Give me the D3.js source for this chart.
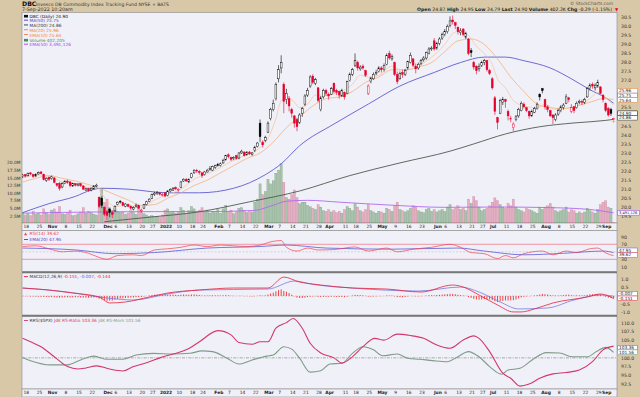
<!DOCTYPE html>
<html>
<head>
<meta charset="utf-8">
<script src="https://cdn.jsdelivr.net/npm/d3@7"></script>
<style>
body { margin: 0; background: #d8c8a8; }
svg { display: block; font-family: "DejaVu Sans", sans-serif; }
</style>
</head>
<body>
<div id="chart"></div>
<script>
// trading days 15-Oct-2021 .. 7-Sep-2022, one entry per session (index 0..224)
var opens = [
  21.70,21.80,21.74,21.90,21.80,21.72, 21.84,21.95,21.82,21.48,21.66, 21.58,21.62,21.30,21.32,21.12,
  21.32,21.45,21.40,21.18,21.30, 21.20,21.30,21.18,20.95,21.05, 20.95,21.02,21.15,20.55,
  20.50,20.00,19.75,19.90,19.70, 19.80,20.15,20.32,20.25,20.05, 20.15,20.05,19.90,20.05,20.10,
  19.80,19.95,20.15,20.32, 20.50,20.70,20.75,20.80,20.68, 20.80,20.65,20.90,20.95,21.10,
  20.95,21.10,21.45,21.55,21.40, 21.65,21.90,22.05,21.98, 21.90,21.80,21.95,22.10,22.05,
  22.20,22.35,22.30,22.45,22.62, 22.90,22.75,22.68,22.85,22.72, 23.00,23.05,22.90,23.05,22.92,
  23.15,23.35,24.65,23.60, 23.70,24.15,24.90,25.40,26.00, 27.10,27.70,26.80,25.95,26.00,
  25.40,25.05,24.85,24.70,25.20, 25.70,26.20,26.70,27.25,26.85, 26.60,25.40,26.10,26.45,26.25,
  26.25,26.85,26.45,26.40,26.15, 26.35,26.30,27.00,27.35, 27.85,28.00,27.65,27.80,27.55,
  26.30,26.95,27.10,27.40,27.50, 27.70,27.60,27.90,28.50,28.20, 28.00,27.35,27.10,27.45,27.35,
  27.70,28.00,28.20,27.80,27.70, 27.95,28.15,28.25,28.50,28.75, 29.20,28.80,29.05,29.35,
  29.55,29.70,30.05,30.35,30.20, 29.95,29.65,29.85,29.40,29.30, 28.65,28.00,27.80,27.65,
  27.85,28.00,28.10,27.55,27.10, 26.05,24.95,25.20,25.80, 25.95,25.30,24.85,24.40,24.85,
  25.05,25.35,25.70,25.50,25.30, 25.05,25.25,25.45,26.25,26.55, 25.95,25.55,25.35,25.10,24.85,
  25.15,25.35,25.50,25.75,26.05, 25.30,25.55,25.50,25.80,25.85, 25.80,26.10,26.55,26.80,26.60,
  26.70,26.65,26.20,25.75,25.45, 25.40,24.87
];
var highs = [
  21.85,21.84,21.92,21.95,21.86,21.88, 21.98,22.00,21.86,21.66,21.70, 21.75,21.66,21.35,21.40,21.38,
  21.50,21.52,21.45,21.36,21.34, 21.34,21.34,21.22,21.08,21.08, 21.10,21.22,21.30,20.60,
  20.60,20.05,19.85,19.95,19.80, 20.10,20.32,20.40,20.30,20.22, 20.20,20.10,20.05,20.20,20.14,
  19.92,20.18,20.36,20.50, 20.75,20.85,20.90,20.85,20.78, 20.85,20.95,21.05,21.12,21.15,
  21.05,21.45,21.60,21.62,21.60, 21.90,22.10,22.12,22.05, 21.95,22.00,22.12,22.28,22.30,
  22.35,22.45,22.48,22.68,22.90, 22.98,22.80,22.82,22.90,23.05, 23.18,23.10,23.10,23.12,23.05,
  23.40,23.60,24.85,23.70, 23.95,24.75,25.50,25.95,26.90, 27.85,28.40,26.90,26.55,26.15,
  25.50,25.10,24.95,25.20,25.55, 26.25,26.60,27.30,27.35,27.15, 26.65,26.15,26.55,26.55,26.35,
  26.65,26.90,26.55,26.45,26.55, 26.40,27.00,27.45,27.70, 28.50,28.10,27.85,27.90,27.60,
  26.80,27.20,27.45,27.60,27.80, 27.80,27.95,28.50,28.65,28.45, 28.05,27.50,27.50,27.60,27.65,
  28.10,28.55,28.25,27.95,28.00, 28.20,28.35,28.60,28.85,28.90, 29.35,29.15,29.40,29.65,
  29.85,30.10,30.55,30.60,30.25, 30.00,29.90,29.90,29.70,29.35, 28.80,28.10,27.85,27.95,
  28.10,28.20,28.15,27.65,27.20, 26.15,25.00,26.00,26.10, 26.00,25.40,25.05,24.70,25.10,
  25.50,25.85,25.80,25.55,25.35, 25.40,25.55,25.80,26.30,26.60, 26.00,25.65,25.40,25.15,25.20,
  25.45,25.65,25.75,26.25,26.10, 25.70,25.60,25.85,25.95,25.95, 26.05,26.65,26.85,26.90,26.85,
  27.05,26.70,26.25,25.80,25.55, 25.50,24.95
];
var lows = [
  21.62,21.65,21.70,21.78,21.62,21.68, 21.80,21.82,21.48,21.40,21.45, 21.52,21.32,21.12,20.92,21.05,
  21.28,21.30,21.10,21.12,21.15, 21.15,21.12,20.95,20.90,20.85, 20.88,20.98,21.10,19.95,
  19.95,19.50,19.30,19.45,19.40, 19.75,20.10,20.20,20.05,20.00, 20.00,19.85,19.82,19.98,19.90,
  19.70,19.90,20.10,20.28, 20.45,20.62,20.68,20.65,20.60, 20.55,20.60,20.85,20.90,20.95,
  20.85,21.05,21.40,21.40,21.35, 21.60,21.85,21.90,21.80, 21.62,21.75,21.92,22.02,22.00,
  22.12,22.25,22.25,22.40,22.58, 22.70,22.55,22.60,22.62,22.65, 22.95,22.80,22.85,22.88,22.85,
  23.05,23.30,23.60,23.30, 23.60,24.10,24.80,25.30,25.90, 26.90,27.40,25.20,25.70,25.30,
  24.95,24.40,24.20,24.60,25.00, 25.60,26.10,26.60,26.80,26.75, 25.80,25.30,26.00,26.15,25.95,
  26.20,26.30,26.20,26.00,26.10, 25.95,26.25,26.95,27.25, 27.75,27.55,27.55,27.60,27.20,
  26.20,26.85,27.05,27.30,27.45, 27.45,27.50,27.85,28.15,28.10, 27.25,26.80,27.05,27.15,27.25,
  27.60,27.95,27.75,27.40,27.60, 27.85,28.05,28.15,28.45,28.65, 28.65,28.70,28.95,29.25,
  29.45,29.60,29.95,30.10,29.85, 29.55,29.50,29.45,29.30,28.40, 28.30,27.60,27.35,27.50,
  27.75,27.85,27.50,27.30,26.50, 25.10,24.30,25.15,25.65, 25.50,24.80,24.70,24.20,24.75,
  24.95,25.30,25.45,25.25,24.90, 25.00,25.20,25.40,25.90,26.30, 25.40,25.25,25.00,24.60,24.75,
  25.05,25.25,25.40,25.70,25.80, 25.20,25.20,25.45,25.70,25.65, 25.70,26.05,26.45,26.55,26.45,
  26.60,26.25,25.80,25.25,25.00, 25.05,24.79
];
var closes = [
  21.78,21.72,21.88,21.84,21.70,21.82, 21.92,21.86,21.52,21.60,21.55, 21.68,21.38,21.22,21.05,21.30,
  21.42,21.38,21.20,21.30,21.22, 21.28,21.20,21.00,21.02,20.92, 21.05,21.18,21.22,20.05,
  20.10,19.62,19.55,19.72,19.60, 20.05,20.28,20.30,20.10,20.18, 20.05,19.95,19.98,20.12,19.95,
  19.85,20.15,20.30,20.45, 20.70,20.78,20.82,20.72,20.70, 20.62,20.90,20.98,21.05,21.02,
  21.00,21.40,21.55,21.45,21.55, 21.85,22.05,22.00,21.92, 21.75,21.95,22.05,22.15,22.25,
  22.30,22.35,22.40,22.60,22.85, 22.80,22.65,22.75,22.70,23.00, 23.10,22.85,23.05,22.95,23.00,
  23.30,23.55,23.90,23.45, 23.85,24.65,25.40,25.75,26.80, 27.60,28.00,25.85,26.30,25.60,
  25.20,24.65,24.45,25.10,25.45, 26.15,26.45,27.20,26.90,27.05, 25.90,26.05,26.45,26.30,26.15,
  26.55,26.40,26.35,26.20,26.45, 26.10,26.95,27.35,27.60, 28.10,27.70,27.75,27.70,27.30,
  26.70,27.15,27.35,27.45,27.70, 27.60,27.85,28.40,28.25,28.35, 27.35,26.95,27.40,27.35,27.55,
  28.05,28.40,27.85,27.65,27.90, 28.10,28.25,28.55,28.75,28.80, 28.75,29.05,29.30,29.55,
  29.70,30.00,30.30,30.25,30.05, 29.70,29.75,29.55,29.60,28.50, 28.55,27.75,27.55,27.80,
  28.00,28.10,27.60,27.40,26.60, 25.30,24.70,25.90,25.95, 25.85,25.05,24.90,24.60,25.00,
  25.40,25.75,25.55,25.35,25.05, 25.30,25.45,25.70,26.10,26.45, 25.55,25.40,25.05,24.95,25.10,
  25.35,25.55,25.65,26.10,25.95, 25.50,25.35,25.75,25.85,25.80, 25.95,26.55,26.75,26.70,26.75,
  26.90,26.30,25.95,25.35,25.10, 25.19,24.90
];
// volume in millions
var volumes = [
  3.6,2.8,3.2,2.6,4.0,3.0, 3.4,2.8,4.8,3.6,3.0, 4.4,4.8,3.8,5.6,3.2, 3.0,3.6,4.4,2.6,2.8,
  3.2,3.8,5.2,3.4,4.0, 3.6,3.0,2.8,8.5, 11.5,7.0,8.0,5.2,4.4, 4.8,4.0,3.6,3.8,3.0,
  3.4,4.2,3.6,3.0,5.2, 3.8,3.2,2.8,2.4, 2.6,2.2,2.4,2.0,2.8, 4.4,4.8,3.6,4.0,3.4,
  3.8,5.2,4.4,3.2,4.2, 5.6,4.8,3.6,4.4, 5.2,3.8,4.4,3.4,4.0, 3.6,4.6,3.4,4.8,6.0,
  4.0,4.4,3.2,3.8,5.0, 5.2,4.4,3.6,4.0,3.8, 7.0,8.0,13.0,9.5, 10.5,14.5,13.0,14.0,16.5,
  17.5,19.6,13.5,8.5,8.0, 9.5,11.0,8.5,6.5,7.0, 7.0,6.0,5.5,5.0,4.6, 6.2,5.4,4.2,4.0,4.6,
  3.8,4.2,3.6,4.0,3.4, 4.6,5.6,5.0,4.2, 6.5,5.4,4.2,3.8,4.6, 6.2,4.2,3.8,3.4,4.0,
  3.8,3.4,5.0,4.6,4.0, 5.8,7.0,4.6,4.2,3.8, 4.2,5.0,5.8,5.4,4.2, 3.8,3.6,4.6,5.0,4.0,
  4.6,3.8,4.2,4.6, 4.0,5.4,6.2,4.6,5.0, 5.8,4.6,5.0,4.2,8.0, 6.6,8.8,7.5,5.4,
  4.2,4.6,5.0,5.8,7.0, 8.4,7.5,6.2,5.4, 5.0,6.6,5.8,8.0,5.4, 4.6,4.2,3.8,5.0,4.6,
  4.2,3.8,3.4,5.4,4.6, 5.4,5.8,6.6,5.4,4.2, 3.8,4.2,4.6,5.4,3.8, 4.6,4.2,3.4,3.8,3.4,
  3.8,5.0,4.2,3.8,3.4, 4.6,6.2,7.0,7.5,5.4, 5.0,0.4
];

// overlay lines: [session index, value]
var ma50 = [[0,19.7],[10,20.2],[20,20.6],[26,20.95],[30,21.05],[40,21.0],[55,20.8],[67,20.8],[80,21.05],
  [92,21.8],[98,22.4],[105,23.4],[118,24.6],[131,25.7],[143,26.7],[156,27.45],[166,28.0],[175,28.3],
  [183,28.3],[190,28.1],[200,27.7],[208,27.1],[215,26.5],[221,26.05],[224,25.75]];
var ma200 = [[31,19.2],[48,19.45],[67,19.75],[86,20.3],[105,20.9],[124,21.75],[143,22.45],[162,23.1],
  [171,23.5],[183,24.05],[196,24.45],[209,24.66],[221,24.8],[224,24.86]];
var ma20 = [[0,21.4],[5,21.6],[10,21.75],[15,21.6],[20,21.45],[25,21.25],[30,21.0],[35,20.7],[40,20.4],
  [45,20.1],[50,20.15],[55,20.5],[60,20.8],[65,21.2],[70,21.5],[75,21.9],[80,22.3],[85,22.7],[90,23.0],
  [95,23.6],[100,24.4],[105,25.0],[110,25.6],[115,26.0],[120,26.1],[125,26.4],[130,26.9],[135,27.2],
  [140,27.6],[145,27.6],[150,27.75],[155,28.0],[160,28.6],[165,29.2],[170,29.3],[175,29.0],[180,28.2],
  [185,27.2],[190,26.4],[195,25.7],[200,25.5],[205,25.45],[210,25.6],[215,25.8],[220,26.0],[224,25.96]];
var ema10 = [[0,21.6],[5,21.78],[10,21.72],[15,21.4],[20,21.3],[25,21.1],[28,21.1],[30,20.75],[33,20.2],
  [35,20.05],[40,20.1],[45,20.0],[50,20.4],[55,20.7],[60,21.0],[65,21.55],[70,21.85],[75,22.2],[80,22.6],
  [85,22.9],[90,23.3],[93,23.8],[96,24.9],[98,25.9],[100,26.1],[103,25.8],[105,25.5],[108,25.7],[111,26.2],
  [115,26.2],[120,26.35],[125,26.8],[128,27.3],[131,27.2],[135,27.3],[140,27.8],[143,27.6],[146,27.6],
  [150,27.8],[155,28.3],[160,29.0],[163,29.6],[166,29.75],[169,29.5],[172,28.9],[175,28.5],[178,27.9],
  [180,27.1],[183,26.6],[186,25.9],[190,25.6],[195,25.5],[198,25.7],[202,25.4],[205,25.45],[210,25.6],
  [215,26.0],[218,26.35],[221,26.05],[224,25.64]];
var volEma50 = [[0,3.4],[30,3.8],[50,3.9],[70,3.9],[88,4.3],[95,6.0],[100,7.3],[108,7.6],[120,7.0],
  [140,6.0],[160,5.3],[180,5.4],[200,5.2],[215,4.6],[224,3.49]];

var rsi14 = [[0,64],[5,66],[10,58],[15,50],[20,52],[25,46],[29,35],[32,30],[36,40],[42,42],[45,40],
  [50,55],[55,58],[60,62],[65,68],[70,64],[75,68],[80,66],[85,64],[90,68],[95,78],[98,80],[100,62],
  [104,52],[108,60],[112,55],[118,56],[126,63],[131,52],[138,60],[142,50],[148,57],[155,62],[162,70],
  [166,62],[170,48],[175,45],[180,32],[183,40],[186,34],[190,45],[197,52],[201,42],[206,52],[210,48],
  [215,58],[218,60],[221,47],[224,39.62]];
var rsiEma20 = [[0,60],[20,55],[35,45],[50,48],[70,60],[90,64],[100,68],[115,60],[140,57],[165,60],
  [175,52],[190,42],[205,46],[220,52],[224,47.95]];

var macdLine = [[0,0.48],[10,0.36],[19,0.18],[29,-0.06],[33,-0.42],[39,-0.36],[48,-0.06],[55,0.18],
  [67,0.36],[80,0.48],[93,0.48],[99,1.14],[105,0.84],[110,0.72],[113,0.66],[125,0.48],[138,0.42],
  [151,0.24],[163,0.66],[167,0.54],[173,0.06],[180,-0.54],[186,-0.96],[189,-0.96],[194,-0.78],
  [201,-0.42],[214,-0.06],[219,0.12],[224,-0.151]];
var macdSignal = [[0,0.48],[17,0.24],[32,-0.12],[42,-0.24],[55,0.12],[67,0.36],[93,0.42],[103,0.9],
  [110,0.7],[125,0.48],[150,0.3],[166,0.54],[173,0.24],[181,-0.36],[188,-0.78],[199,-0.72],
  [209,-0.24],[219,0.06],[224,-0.007]];
var macdHist = [
  -0.01,-0.02,-0.02,-0.03,-0.03,-0.04, -0.04,-0.05,-0.06,-0.06,-0.07, -0.07,-0.08,-0.09,-0.10,-0.09,
  -0.08,-0.08,-0.09,-0.08,-0.08, -0.08,-0.09,-0.10,-0.10,-0.11, -0.10,-0.09,-0.08,-0.16,
  -0.20,-0.25,-0.29,-0.28,-0.27, -0.22,-0.18,-0.15,-0.14,-0.12, -0.11,-0.10,-0.09,-0.07,-0.07,
  -0.06,-0.03,0.00,0.03, 0.06,0.08,0.09,0.09,0.08, 0.07,0.08,0.08,0.08,0.07,
  0.06,0.08,0.09,0.08,0.08, 0.09,0.10,0.08,0.06, 0.03,0.03,0.03,0.04,0.04,
  0.04,0.04,0.03,0.04,0.05, 0.04,0.02,0.01,0.00,0.01, 0.01,-0.01,-0.01,-0.02,-0.03,
  -0.01,0.01,0.04,0.02, 0.04,0.09,0.15,0.20,0.28, 0.35,0.40,0.30,0.26,0.18,
  0.08,-0.02,-0.10,-0.12,-0.12, -0.10,-0.07,-0.04,-0.03,-0.02, -0.05,-0.06,-0.05,-0.05,-0.05,
  -0.04,-0.04,-0.05,-0.06,-0.06, -0.07,-0.04,0.00,0.03, 0.07,0.06,0.05,0.04,0.01,
  -0.04,-0.04,-0.03,-0.02,-0.01, -0.01,0.00,0.03,0.03,0.03, -0.02,-0.07,-0.07,-0.07,-0.06,
  -0.03,0.00,-0.01,-0.02,-0.02, -0.01,0.00,0.02,0.04,0.05, 0.04,0.06,0.07,0.09,
  0.10,0.11,0.13,0.13,0.11, 0.08,0.06,0.03,0.01,-0.07, -0.11,-0.17,-0.21,-0.22,
  -0.21,-0.19,-0.20,-0.21,-0.25, -0.31,-0.36,-0.33,-0.30, -0.27,-0.27,-0.26,-0.25,-0.21,
  -0.15,-0.09,-0.05,-0.02,-0.01, 0.01,0.03,0.06,0.09,0.13, 0.11,0.09,0.06,0.04,0.03,
  0.03,0.04,0.05,0.08,0.08, 0.05,0.03,0.04,0.04,0.04, 0.04,0.07,0.10,0.11,0.12,
  0.12,0.08,0.02,-0.05,-0.10, -0.12,-0.144
];

var rsRatio = [[0,105.6],[3,104.6],[7,103.2],[12,100.3],[17,97.5],[21,96.8],[24,97.1],[28,97.7],[33,96.8],
  [38,96.25],[42,97.5],[47,98.6],[52,100.0],[57,101.1],[62,102.3],[67,104.6],[74,107.8],[79,106.6],
  [82,104.4],[87,103.9],[90,104.6],[93,104.6],[96,108.5],[100,110.1],[102.5,111.3],[106,108.5],
  [109,104.2],[113,101.4],[118,100.0],[121,98.5],[125,100.3],[129,103.2],[133.5,105.6],[137,105.1],
  [142,106.8],[147,106.4],[152,105.6],[157,103.7],[162,102.75],[167,105.1],[171,106.3],[173,105.6],
  [177,101.8],[182,95.6],[185,94.15],[188.5,91.9],[192,92.5],[196,94.15],[201,95.4],[206,95.8],
  [211,96.5],[216,98.9],[220,102.3],[224,103.36]];
var rsMomentum = [[0,100.1],[3,99.2],[10.5,98.0],[17,98.0],[22,99.4],[27,100.5],[32,99.6],[38,99.6],
  [43,100.8],[49.5,101.3],[57,101.1],[63.5,101.3],[68,102.0],[72,101.8],[77.5,99.9],[82,98.25],[87,99.4],
  [92.5,100.5],[95,100.8],[99,103.2],[102,102.5],[105,99.9],[109,95.9],[113,96.3],[116.5,98.25],
  [121,98.45],[125,101.3],[129,103.2],[133,102.3],[136.5,100.6],[142,101.1],[146,99.9],[150.5,99.6],
  [155.5,99.2],[161,98.9],[164.5,100.1],[169,101.8],[173,100.3],[177,97.5],[181.5,95.3],[184,96.5],
  [188.5,97.0],[193.5,99.6],[198.5,101.5],[203.5,101.4],[208.5,100.3],[214,100.3],[217.5,101.8],
  [221,103.0],[224,101.56]];

var tickDays = [1,6,11,16,21,26,32,35,40,45,49,54,59,64,68,74,78,83,88,93,97,102,107,112,116,122,126,
  131,136,141,146,151,157,160,165,170,174,178,183,188,193,198,203,208,213,218,221];
var tickLabels = ["18","25","Nov","8","15","22","Dec","6","13","20","27","2022","10","18","24","Feb","7",
  "14","22","Mar","7","14","21","28","Apr","11","18","25","May","9","16","23","Jun","6","13","21","27",
  "Jul","11","18","25","Aug","8","15","22","29","Sep"];
var bold = ["Nov","Dec","2022","Feb","Mar","Apr","May","Jun","Jul","Aug","Sep"];

var priceTicks = d3.range(19.5, 30.51, 0.5);
var volTicks = [2.5, 5, 7.5, 10, 12.5, 15, 17.5, 20];
var rsiTicks = [10, 30, 50, 70, 90];
var macdTicks = [-1, -0.5, 0, 0.5, 1];
var rrsTicks = [92.5, 95, 97.5, 100, 102.5, 105, 107.5, 110];

function init() {
  var W = 640, H = 397;
  var L = 22, R = 617;
  var bg = "#f0f0f8", red = "#e4002b", fsz = 5.2;

  var svg = d3.select("#chart").append("svg").attr("width", W).attr("height", H);
  svg.append("rect").attr("width", W).attr("height", H).attr("fill", "#d8c8a8");

  var x = d3.scaleLinear().domain([0, 224]).range([22.6, 613.6]);
  var days = d3.range(closes.length);

  var panels = {
    main: [12.5, 223],
    rsi: [230.5, 271.5],
    macd: [273, 315],
    rrs: [316.5, 389]
  };
  var defs = svg.append("defs");
  Object.keys(panels).forEach(function(k) {
    var p = panels[k];
    svg.append("rect").attr("x", L).attr("y", p[0]).attr("width", R - L).attr("height", p[1] - p[0])
      .attr("fill", bg).attr("stroke", "#8a8a8a").attr("stroke-width", 0.6);
    defs.append("clipPath").attr("id", "clip-" + k).append("rect")
      .attr("x", L).attr("y", p[0]).attr("width", R - L).attr("height", p[1] - p[0]);
  });
  // date strips
  svg.append("rect").attr("x", L).attr("y", 223).attr("width", R - L).attr("height", 7.5)
    .attr("fill", bg).attr("stroke", "#8a8a8a").attr("stroke-width", 0.6);
  svg.append("rect").attr("x", L).attr("y", 389).attr("width", R - L).attr("height", 8)
    .attr("fill", bg).attr("stroke", "#8a8a8a").attr("stroke-width", 0.6);
  svg.append("line").attr("x1", L).attr("x2", R).attr("y1", 272.2).attr("y2", 272.2).attr("stroke", "#777").attr("stroke-width", 1.4);
  svg.append("line").attr("x1", L).attr("x2", R).attr("y1", 315.8).attr("y2", 315.8).attr("stroke", "#777").attr("stroke-width", 1.4);

  function txt(g, xx, yy, s, col, anchor, weight, size) {
    return g.append("text").attr("x", xx).attr("y", yy).text(s)
      .attr("fill", col || "#222").attr("font-size", size || fsz)
      .attr("text-anchor", anchor || "start").attr("font-weight", weight || "normal");
  }
  function lineOf(sc) {
    return d3.line().x(function(d) { return x(d[0]); }).y(function(d) { return sc(d[1]); }).curve(d3.curveMonotoneX);
  }
  // right-hand value tags; returns the y centres so axis labels under them can be skipped
  function valueBoxes(list) {
    list.forEach(function(b) {
      var w = b.w || 19.5, fs = b.fs || 4.3;
      svg.append("rect").attr("x", 617.8).attr("y", b.y - 2.3).attr("width", w).attr("height", 4.6)
        .attr("fill", "#fff").attr("stroke", b.col).attr("stroke-width", 0.5);
      txt(svg, 619, b.y + 1.5, b.s, "#222", "start", "normal", fs);
    });
    return list.map(function(b) { return b.y; });
  }
  function axisLabels(ticks, sc, fmt, taken) {
    ticks.forEach(function(t) {
      var yy = sc(t);
      var hit = taken.some(function(b) { return Math.abs(b - yy) < 4.4; });
      if (!hit) txt(svg, 621, yy + 1.7, fmt(t), "#333", "start", "normal", 4.6);
    });
  }

  // ---------- header ----------
  txt(svg, 22, 5.5, "DBC", "#111", "start", "bold", 6.2);
  txt(svg, 36, 5.5, "Invesco DB Commodity Index Tracking Fund  NYSE + BATS", "#333", "start", "normal", 4.6);
  txt(svg, 22, 11, "7-Sep-2022 10:20am", "#333", "start", "normal", 4.8);
  txt(svg, 613, 5, "\u00a9 StockCharts.com", "#555", "end", "normal", 4.4);
  var hdr = svg.append("text").attr("x", 612).attr("y", 11).attr("text-anchor", "end").attr("font-size", 4.6).attr("fill", "#222");
  [["Open ", "bold"], ["24.87 ", ""], ["High ", "bold"], ["24.95 ", ""], ["Low ", "bold"], ["24.79 ", ""],
   ["Last ", "bold"], ["24.90 ", ""], ["Volume ", "bold"], ["402.2K ", ""], ["Chg ", "bold"], ["-0.29 (-1.15%)", ""]]
    .forEach(function(t) { hdr.append("tspan").text(t[0]).attr("font-weight", t[1] || "normal"); });
  txt(svg, 615, 11, "\u25bc", red, "start", "normal", 4.2);

  // ---------- main panel ----------
  var y = d3.scaleLinear().domain([19.5, 30.5]).range([216.3, 17.3]);
  var yv = d3.scaleLinear().domain([0, 20]).range([223.5, 162.5]);
  var gm = svg.append("g").attr("clip-path", "url(#clip-main)");

  function upDay(i) { return i === 0 || closes[i] >= closes[i - 1]; }

  gm.selectAll("rect.vol").data(days).enter().append("rect")
    .attr("x", function(d) { return x(d) - 1.1; })
    .attr("width", 2.2)
    .attr("y", function(d) { return yv(volumes[d]); })
    .attr("height", function(d) { return yv(0) - yv(volumes[d]); })
    .attr("fill", function(d) { return upDay(d) ? "rgba(110,160,110,0.55)" : "rgba(215,110,140,0.5)"; })
    .attr("stroke", function(d) { return upDay(d) ? "rgba(80,120,80,0.6)" : "rgba(190,90,120,0.6)"; })
    .attr("stroke-width", 0.3);

  gm.append("path").datum(volEma50).attr("d", lineOf(yv)).attr("fill", "none").attr("stroke", "#b06af0").attr("stroke-width", 0.9);
  gm.append("path").datum(ma200).attr("d", lineOf(y)).attr("fill", "none").attr("stroke", "#4e5a4e").attr("stroke-width", 0.9);
  gm.append("path").datum(ma50).attr("d", lineOf(y)).attr("fill", "none").attr("stroke", "#5c5cd0").attr("stroke-width", 0.9);
  gm.append("path").datum(ma20).attr("d", lineOf(y)).attr("fill", "none").attr("stroke", "#f5ab6e").attr("stroke-width", 0.7);
  gm.append("path").datum(ema10).attr("d", lineOf(y)).attr("fill", "none").attr("stroke", "#f8c39a").attr("stroke-width", 0.7);

  function candleCol(d) { return upDay(d) ? "#000" : red; }
  gm.selectAll("line.wick").data(days).enter().append("line")
    .attr("x1", function(d) { return x(d); }).attr("x2", function(d) { return x(d); })
    .attr("y1", function(d) { return y(highs[d]); }).attr("y2", function(d) { return y(lows[d]); })
    .attr("stroke", candleCol).attr("stroke-width", 0.6);
  gm.selectAll("rect.body").data(days).enter().append("rect")
    .attr("x", function(d) { return x(d) - 0.9; })
    .attr("width", 1.8)
    .attr("y", function(d) { return y(Math.max(opens[d], closes[d])); })
    .attr("height", function(d) { return Math.max(0.6, Math.abs(y(opens[d]) - y(closes[d]))); })
    .attr("fill", function(d) { return closes[d] > opens[d] ? "#fff" : candleCol(d); })
    .attr("stroke", candleCol).attr("stroke-width", 0.45);
  txt(svg, x(224), y(24.5) - 2.5, "+", "#e0b800", "middle", "bold", 5);

  var mainTaken = valueBoxes([
    { y: 90.8, s: "25.96", col: "#f07f2a" },
    { y: 95.4, s: "25.75", col: "#5c5cd0" },
    { y: 100.0, s: "25.64", col: "#f08040" },
    { y: 113.2, s: "24.90", col: "#000" },
    { y: 117.8, s: "24.86", col: "#333" }
  ]);
  axisLabels(priceTicks, y, function(t) { return t.toFixed(1); }, mainTaken);
  valueBoxes([{ y: yv(3.49), s: "3,491,126", col: "#a040f0", w: 21.5, fs: 3.6 }]);
  volTicks.forEach(function(t) { txt(svg, 20.5, yv(t) + 1.8, t.toFixed(1) + "M", "#333", "end", "normal", 4.4); });

  // legend
  var lg = [["DBC (Daily) 24.90", "#111"], ["MA(50) 25.75", "#4040c8"], ["MA(200) 24.86", "#333"],
            ["MA(20) 25.96", "#f07f2a"], ["EMA(10) 25.64", "#f08040"], ["Volume 402,205", "#4e8a4e"],
            ["EMA(50) 3,491,126", "#a040f0"]];
  lg.forEach(function(t, i) {
    var yy = 17.5 + i * 4.8;
    svg.append("rect").attr("x", 24).attr("y", yy - 2.6).attr("width", 4).attr("height", i === 0 || i === 5 ? 2.6 : 0.9)
      .attr("fill", t[1]);
    txt(svg, 29.5, yy, t[0], t[1], "start", "normal", 4.3);
  });

  // ---------- date axes ----------
  [227.9, 394.3].forEach(function(yy) {
    tickDays.forEach(function(d, i) {
      var lab = tickLabels[i];
      txt(svg, x(d) + 1, yy, lab, "#222", "middle", bold.indexOf(lab) >= 0 ? "bold" : "normal", 4.4);
    });
  });

  // ---------- RSI ----------
  var yr = d3.scaleLinear().domain([30, 70]).range([259.3, 244.3]);
  var gr = svg.append("g").attr("clip-path", "url(#clip-rsi)");
  [70, 30].forEach(function(t) {
    gr.append("line").attr("x1", L).attr("x2", R).attr("y1", yr(t)).attr("y2", yr(t)).attr("stroke", "#f07080").attr("stroke-width", 0.7);
  });
  gr.append("line").attr("x1", L).attr("x2", R).attr("y1", yr(50)).attr("y2", yr(50))
    .attr("stroke", "#c8a0a8").attr("stroke-width", 0.4).attr("stroke-dasharray", "2,1.5");
  gr.append("path").datum(rsiEma20).attr("d", lineOf(yr)).attr("fill", "none").attr("stroke", "#5a5ad8").attr("stroke-width", 0.8);
  gr.append("path").datum(rsi14).attr("d", lineOf(yr)).attr("fill", "none").attr("stroke", "#f04050").attr("stroke-width", 0.7);
  var rsiTaken = valueBoxes([
    { y: 250.3, s: "47.95", col: "#5a5ad8" },
    { y: 254.9, s: "39.62", col: "#f04050" }
  ]);
  axisLabels(rsiTicks, yr, String, rsiTaken);
  svg.append("path").attr("d", "M24,235.2 l1.6,-2.6 l1.6,2.6 z").attr("fill", "#f04050");
  txt(svg, 29.5, 235.4, "RSI(14) 39.62", "#f04050", "start", "normal", 4.3);
  svg.append("rect").attr("x", 24).attr("y", 239).attr("width", 4).attr("height", 0.9).attr("fill", "#4040c8");
  txt(svg, 29.5, 240.6, "EMA(20) 47.95", "#4040c8", "start", "normal", 4.3);

  // ---------- MACD ----------
  var ym = d3.scaleLinear().domain([-1, 1]).range([312.6, 279.4]);
  var gc = svg.append("g").attr("clip-path", "url(#clip-macd)");
  gc.append("line").attr("x1", L).attr("x2", R).attr("y1", ym(0)).attr("y2", ym(0))
    .attr("stroke", "#d89090").attr("stroke-width", 0.5).attr("stroke-dasharray", "2,1.5");
  gc.selectAll("rect.hist").data(days).enter().append("rect")
    .attr("x", function(d) { return x(d) - 0.5; })
    .attr("width", 1)
    .attr("y", function(d) { return ym(Math.max(0, macdHist[d])); })
    .attr("height", function(d) { return Math.abs(ym(macdHist[d]) - ym(0)); })
    .attr("fill", "#ee4444");
  gc.append("path").datum(macdSignal).attr("d", lineOf(ym)).attr("fill", "none").attr("stroke", "#7a7ae0").attr("stroke-width", 0.8);
  gc.append("path").datum(macdLine).attr("d", lineOf(ym)).attr("fill", "none").attr("stroke", "#e8203a").attr("stroke-width", 0.8);
  var macdTaken = valueBoxes([
    { y: ym(0) - 2.3, s: "-0.007", col: "#5a5ad8" },
    { y: ym(0) + 2.3, s: "-0.151", col: "#e8203a" }
  ]);
  axisLabels(macdTicks, ym, function(t) { return t.toFixed(1); }, macdTaken);
  svg.append("rect").attr("x", 24).attr("y", 276.2).attr("width", 4).attr("height", 0.9).attr("fill", "#e8203a");
  var ml = svg.append("text").attr("x", 29.5).attr("y", 277.8).attr("font-size", 4.3);
  ml.append("tspan").text("MACD(12,26,9) ").attr("fill", "#333");
  ml.append("tspan").text("-0.151").attr("fill", "#e8203a");
  ml.append("tspan").text(", ").attr("fill", "#333");
  ml.append("tspan").text("-0.007").attr("fill", "#5a5ad8");
  ml.append("tspan").text(", ").attr("fill", "#333");
  ml.append("tspan").text("-0.144").attr("fill", "#e8203a");

  // ---------- RRS ----------
  var ys = d3.scaleLinear().domain([92.5, 110]).range([384, 323]);
  var gs = svg.append("g").attr("clip-path", "url(#clip-rrs)");
  gs.append("line").attr("x1", L).attr("x2", R).attr("y1", ys(100)).attr("y2", ys(100))
    .attr("stroke", "#777").attr("stroke-width", 0.6).attr("stroke-dasharray", "3,1.2,1,1.2");
  gs.append("path").datum(rsMomentum).attr("d", lineOf(ys)).attr("fill", "none").attr("stroke", "#7f9c86").attr("stroke-width", 1.1);
  gs.append("path").datum(rsRatio).attr("d", lineOf(ys)).attr("fill", "none").attr("stroke", "#d2386a").attr("stroke-width", 1.1);
  var rrsTaken = valueBoxes([
    { y: 347.6, s: "103.36", col: "#d2386a" },
    { y: 352.2, s: "101.56", col: "#7f9c86" }
  ]);
  axisLabels(rrsTicks, ys, function(t) { return t.toFixed(1); }, rrsTaken);
  svg.append("rect").attr("x", 24).attr("y", 320).attr("width", 4).attr("height", 0.9).attr("fill", "#d2386a");
  var rl = svg.append("text").attr("x", 29.5).attr("y", 321.6).attr("font-size", 4.3);
  rl.append("tspan").text("RRS($SPX) ").attr("fill", "#333");
  rl.append("tspan").text("JdK RS-Ratio 103.36 ").attr("fill", "#d2386a");
  rl.append("tspan").text("JdK RS-Mom 101.56").attr("fill", "#7f9c86");
}

window.onload = init;
</script>
</body>
</html>
